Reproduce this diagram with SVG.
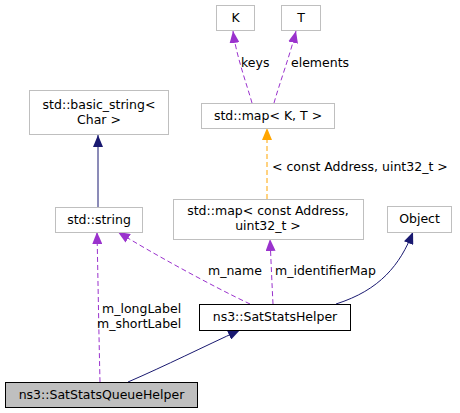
<svg xmlns="http://www.w3.org/2000/svg" width="460" height="413" viewBox="0 0 460 413">
<style>
text{font-family:"DejaVu Sans","Liberation Sans",sans-serif;font-size:12.5px;fill:#000}
.n{text-anchor:middle}
.g{fill:#fff;stroke:#bfbfbf;stroke-width:1}
.b{fill:#fff;stroke:#000;stroke-width:1}
.q{fill:#bfbfbf;stroke:#000;stroke-width:1}
.inh{fill:none;stroke:#191970;stroke-width:1}
.use{fill:none;stroke:#9a32cd;stroke-width:1;stroke-dasharray:5,3}
.tpl{fill:none;stroke:#ffa500;stroke-width:1;stroke-dasharray:5,3}
</style>
<defs>
<marker id="aInh" viewBox="0 0 12 10" refX="12" refY="5" markerWidth="12" markerHeight="10" markerUnits="userSpaceOnUse" orient="auto"><path d="M0,0L12,5L0,10z" fill="#191970"/></marker>
<marker id="aUse" viewBox="0 0 12 10" refX="12" refY="5" markerWidth="12" markerHeight="10" markerUnits="userSpaceOnUse" orient="auto"><path d="M0,0L12,5L0,10z" fill="#9a32cd"/></marker>
<marker id="aTpl" viewBox="0 0 12 10" refX="12" refY="5" markerWidth="12" markerHeight="10" markerUnits="userSpaceOnUse" orient="auto"><path d="M0,0L12,5L0,10z" fill="#ffa500"/></marker>
</defs>
<g id="edges">
<path class="use" d="M252,103 C247,85 236,55 233,31" marker-end="url(#aUse)"/>
<text x="241" y="67">keys</text>
<path class="use" d="M274,103 C279,85 290,55 296,31" marker-end="url(#aUse)"/>
<text x="291" y="67">elements</text>
<path class="tpl" d="M267,199 L267,128" marker-end="url(#aTpl)"/>
<text x="272" y="171">&lt; const Address, uint32_t &gt;</text>
<path class="inh" d="M98,207 L98,135" marker-end="url(#aInh)"/>
<path class="use" d="M250,304 C210,285 150,252 118,232" marker-end="url(#aUse)"/>
<text x="208" y="275">m_name</text>
<path class="use" d="M273,304 C272,285 271,260 270,239" marker-end="url(#aUse)"/>
<text x="275" y="275">m_identifierMap</text>
<path class="inh" d="M336,304 C380,290 400,265 413,232" marker-end="url(#aInh)"/>
<path class="use" d="M100,382 C99,340 98,280 97,232" marker-end="url(#aUse)"/>
<text x="102" y="313">m_longLabel</text>
<text x="97" y="328">m_shortLabel</text>
<path class="inh" d="M128,382 C165,366 205,346 240,330" marker-end="url(#aInh)"/>
</g>
<g id="nK"><rect class="g" x="216.5" y="5.5" width="38" height="25"/><text class="n" x="235.5" y="22">K</text></g>
<g id="nT"><rect class="g" x="281.5" y="5.5" width="39" height="25"/><text class="n" x="301" y="22">T</text></g>
<g id="nMapKT"><rect class="g" x="201.5" y="103.5" width="133" height="25"/><text class="n" x="268" y="120">std::map&lt; K, T &gt;</text></g>
<g id="nBasicString"><rect class="g" x="29.5" y="90.5" width="139" height="44"/><text class="n" x="99" y="109">std::basic_string&lt;</text><text class="n" x="99" y="124">Char &gt;</text></g>
<g id="nString"><rect class="g" x="55.5" y="207.5" width="87" height="25"/><text class="n" x="99" y="224">std::string</text></g>
<g id="nMapAddr"><rect class="g" x="173.5" y="199.5" width="190" height="40"/><text class="n" x="268" y="215">std::map&lt; const Address,</text><text class="n" x="268" y="230">uint32_t &gt;</text></g>
<g id="nObject"><rect class="g" x="387.5" y="206.5" width="64" height="26"/><text class="n" x="419.5" y="223">Object</text></g>
<g id="nSatStatsHelper"><rect class="b" x="199.5" y="304.5" width="151" height="26"/><text class="n" x="275" y="321">ns3::SatStatsHelper</text></g>
<g id="nSatStatsQueueHelper"><rect class="q" x="5.5" y="382.5" width="192" height="25"/><text class="n" x="101.5" y="399">ns3::SatStatsQueueHelper</text></g>
</svg>
